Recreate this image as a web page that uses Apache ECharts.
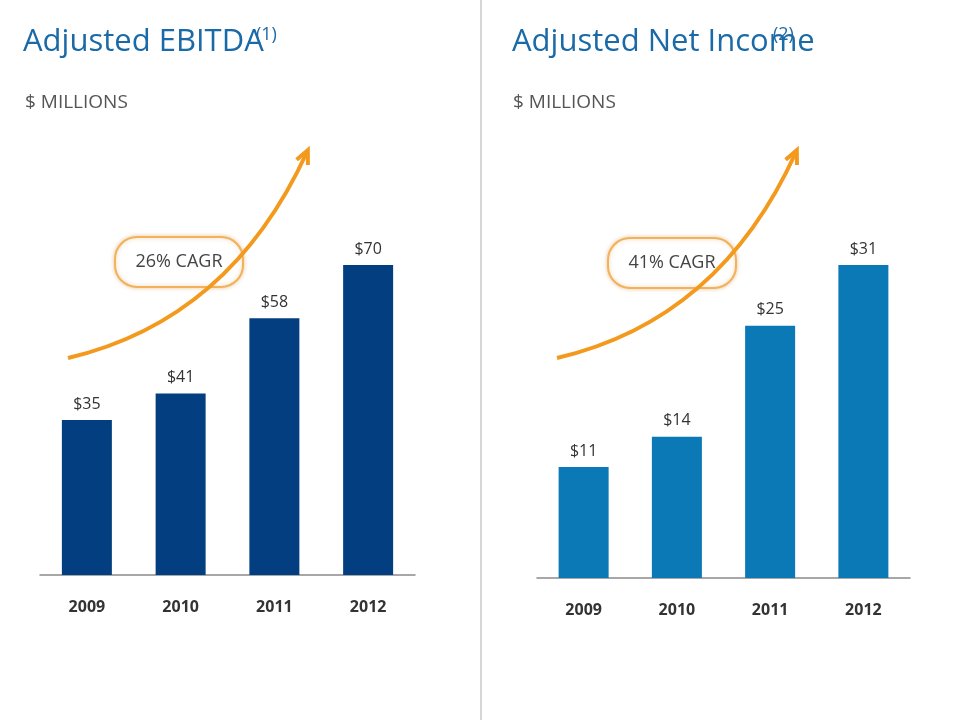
<!DOCTYPE html>
<html>
<head>
<meta charset="utf-8">
<script src="https://cdn.jsdelivr.net/npm/echarts@6/dist/echarts.min.js"></script>
<style>html,body{margin:0;padding:0;background:#fff}#chart{width:960px;height:720px}</style>
</head>
<body>
<div id="chart"></div>
<script>
var years = ['2009', '2010', '2011', '2012'];
var ebitda = [35, 41, 58, 70];
var netIncome = [11, 14, 25, 31];
var cagrLeft = '26% CAGR';
var cagrRight = '41% CAGR';

var myChart = echarts.init(document.getElementById('chart'));
var font = 'Open Sans, Liberation Sans, sans-serif';
var orange = '#f39a1e';

function xAxisOf(i) {
    return {
        type: 'category', gridIndex: i, data: years,
        axisTick: {show: false},
        axisLine: {lineStyle: {color: '#8a8a8a', width: 1.5}},
        axisLabel: {color: '#333', fontSize: 16, fontWeight: 'bold', fontFamily: font, margin: 24}
    };
}
function yAxisOf(i, max) {
    return {type: 'value', gridIndex: i, min: 0, max: max, show: false, splitLine: {show: false}};
}
function barOf(i, data, color) {
    return {
        type: 'bar', xAxisIndex: i, yAxisIndex: i, data: data, barWidth: 50,
        itemStyle: {color: color},
        label: {show: true, position: 'top', distance: 8, color: '#333', fontSize: 16, fontFamily: font,
            formatter: function (p) { return '$' + p.value; }}
    };
}
function arrow(x1, y1, cx, cy, x2, y2) {
    var ang = Math.atan2(y2 - cy, x2 - cx), s = 13;
    return [{
        type: 'bezierCurve', shape: {x1: x1, y1: y1, cpx1: cx, cpy1: cy, x2: x2, y2: y2},
        style: {stroke: orange, lineWidth: 4, fill: null}, z: 1
    }, {
        type: 'polyline',
        shape: {points: [
            [x2 - s * Math.cos(ang - 0.5), y2 - s * Math.sin(ang - 0.5)],
            [x2 + 2 * Math.cos(ang), y2 + 2 * Math.sin(ang)],
            [x2 - s * Math.cos(ang + 0.5), y2 - s * Math.sin(ang + 0.5)]
        ]},
        style: {stroke: orange, lineWidth: 4, fill: null}, z: 1
    }];
}
function badge(cx, cy, text) {
    return {
        type: 'group', z: 5, children: [{
            type: 'rect', shape: {x: cx - 64, y: cy - 25, width: 128, height: 50, r: 22},
            style: {fill: '#fff', stroke: '#f2b15a', lineWidth: 2, shadowBlur: 4, shadowColor: 'rgba(200,120,0,0.35)'}
        }, {
            type: 'text', x: cx, y: cy,
            style: {text: text, fill: '#444', font: '18px ' + font, align: 'center', verticalAlign: 'middle'}
        }]
    };
}

var option = {
    animation: false,
    grid: [
        {left: 40, width: 375, top: 150, height: 425},
        {left: 537, width: 373, top: 150, height: 428}
    ],
    xAxis: [xAxisOf(0), xAxisOf(1)],
    yAxis: [yAxisOf(0, 96), yAxisOf(1, 42.4)],
    series: [barOf(0, ebitda, '#033f80'), barOf(1, netIncome, '#0a79b5')],
    title: [
        {text: 'Adjusted EBITDA', left: 18, top: 22, textStyle: {color: '#1b6aa8', fontSize: 31, fontWeight: 'normal', fontFamily: font}},
        {text: '$ MILLIONS', left: 20, top: 88, textStyle: {color: '#555', fontSize: 19, fontWeight: 'normal', fontFamily: font}},
        {text: 'Adjusted Net Income', left: 507, top: 22, textStyle: {color: '#1b6aa8', fontSize: 31, fontWeight: 'normal', fontFamily: font}},
        {text: '$ MILLIONS', left: 508, top: 88, textStyle: {color: '#555', fontSize: 19, fontWeight: 'normal', fontFamily: font}}
    ],
    graphic: [].concat(
        [{type: 'text', left: 256, top: 26, style: {text: '(1)', fill: '#1b6aa8', font: '18px ' + font}},
         {type: 'text', left: 773, top: 26, style: {text: '(2)', fill: '#1b6aa8', font: '18px ' + font}},
         {type: 'line', shape: {x1: 481, y1: 0, x2: 481, y2: 720}, style: {stroke: '#c8c8c8', lineWidth: 1.5}}],
        arrow(68, 358, 230, 320, 307, 152),
        arrow(557, 358, 720, 320, 796, 152),
        [badge(179, 262, cagrLeft), badge(672, 263, cagrRight)]
    )
};
myChart.setOption(option);
</script>
</body>
</html>
